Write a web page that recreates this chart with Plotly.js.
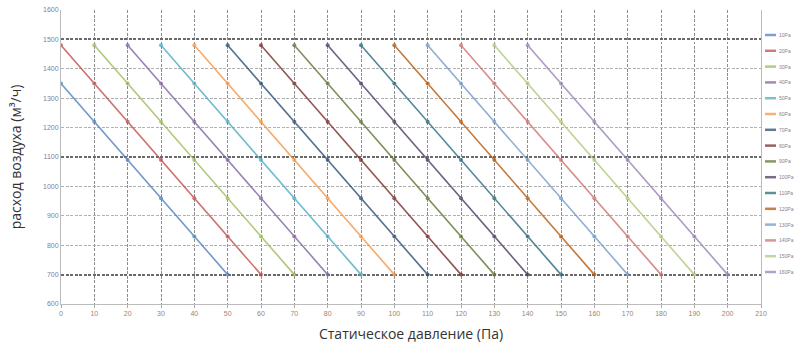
<!DOCTYPE html>
<html>
<head>
<meta charset="utf-8">
<script src="https://cdn.plot.ly/plotly-3.0.1.min.js"></script>
<style>
html,body{margin:0;padding:0;background:#fff;}
#chart{width:795px;height:354px;}
</style>
</head>
<body>
<div id="chart"></div>
<script>
// ---- data ----
const seriesNames = ["10Pa","20Pa","30Pa","40Pa","50Pa","60Pa","70Pa","80Pa","90Pa","100Pa","110Pa","120Pa","130Pa","140Pa","150Pa","160Pa"];
const seriesColors = ["#4F81BD","#C0504D","#9BBB59","#8064A2","#4BACC6","#F79646","#2C4D75","#772C2A","#5F7530","#4D3B62","#276A7C","#B65708","#729ACA","#CD7371","#AFC97A","#9983B5"];

const pressure01 = [0,10,20,30,40,50];
const flow01     = [1350,1220,1090,960,830,700];
const pressure02 = [0,10,20,30,40,50,60];
const flow02     = [1480,1350,1220,1090,960,830,700];
const pressure03 = [10,20,30,40,50,60,70];
const flow03     = [1480,1350,1220,1090,960,830,700];
const pressure04 = [20,30,40,50,60,70,80];
const flow04     = [1480,1350,1220,1090,960,830,700];
const pressure05 = [30,40,50,60,70,80,90];
const flow05     = [1480,1350,1220,1090,960,830,700];
const pressure06 = [40,50,60,70,80,90,100];
const flow06     = [1480,1350,1220,1090,960,830,700];
const pressure07 = [50,60,70,80,90,100,110];
const flow07     = [1480,1350,1220,1090,960,830,700];
const pressure08 = [60,70,80,90,100,110,120];
const flow08     = [1480,1350,1220,1090,960,830,700];
const pressure09 = [70,80,90,100,110,120,130];
const flow09     = [1480,1350,1220,1090,960,830,700];
const pressure10 = [80,90,100,110,120,130,140];
const flow10     = [1480,1350,1220,1090,960,830,700];
const pressure11 = [90,100,110,120,130,140,150];
const flow11     = [1480,1350,1220,1090,960,830,700];
const pressure12 = [100,110,120,130,140,150,160];
const flow12     = [1480,1350,1220,1090,960,830,700];
const pressure13 = [110,120,130,140,150,160,170];
const flow13     = [1480,1350,1220,1090,960,830,700];
const pressure14 = [120,130,140,150,160,170,180];
const flow14     = [1480,1350,1220,1090,960,830,700];
const pressure15 = [130,140,150,160,170,180,190];
const flow15     = [1480,1350,1220,1090,960,830,700];
const pressure16 = [140,150,160,170,180,190,200];
const flow16     = [1480,1350,1220,1090,960,830,700];

const xTickVals = [0,10,20,30,40,50,60,70,80,90,100,110,120,130,140,150,160,170,180,190,200,210];
const yTickVals = [600,700,800,900,1000,1100,1200,1300,1400,1500,1600];
const xTitle = "Статическое давление (Па)";
const yTitle = "расход воздуха (м³/ч)";

const pressures = [pressure01,pressure02,pressure03,pressure04,pressure05,pressure06,pressure07,pressure08,
                   pressure09,pressure10,pressure11,pressure12,pressure13,pressure14,pressure15,pressure16];
const flows = [flow01,flow02,flow03,flow04,flow05,flow06,flow07,flow08,
               flow09,flow10,flow11,flow12,flow13,flow14,flow15,flow16];

// ---- traces ----
const traces = pressures.map((px, i) => ({
  type: "scatter",
  mode: "lines+markers",
  name: seriesNames[i],
  x: px,
  y: flows[i],
  line: {color: seriesColors[i], width: 1.6},
  marker: {color: seriesColors[i], size: 4},
  opacity: 0.8,
  showlegend: false,
  xaxis: "x",
  yaxis: "y"
}));

// ---- compact legend (drawn at the right edge) ----
const plotL = 61, plotR = 761, plotT = 10, plotB = 304;
const W = plotR - plotL, H = plotB - plotT;
const shapes = [];
const annotations = [];
seriesNames.forEach((nm, i) => {
  const yp = 35 + i * 15.8;
  const py = 1 - (yp - plotT) / H;
  shapes.push({type: "line", xref: "paper", yref: "paper",
    x0: (765 - plotL) / W, x1: (776 - plotL) / W, y0: py, y1: py,
    line: {color: seriesColors[i], width: 2.5}, opacity: 0.75});
  annotations.push({xref: "paper", yref: "paper", x: (777 - plotL) / W, y: py,
    xanchor: "left", yanchor: "middle", showarrow: false, text: nm,
    font: {family: "Liberation Sans, Arial", size: 5, color: "#8a7f8f"}});
});

const layout = {
  width: 795, height: 354,
  margin: {l: plotL, r: 795 - plotR, t: plotT, b: 354 - plotB, pad: 0},
  paper_bgcolor: "#fff", plot_bgcolor: "#fff",
  showlegend: false,
  xaxis: {
    range: [0, 210], tickvals: xTickVals, ticktext: xTickVals.map(String),
    showgrid: true, gridcolor: "#8c8c8c", griddash: "3px,1.5px", gridwidth: 1,
    zeroline: false, showline: true, linecolor: "#bbb", linewidth: 1,
    ticks: "outside", ticklen: 3, tickcolor: "#aaa",
    tickfont: {family: "Liberation Sans, Arial", size: 7, color: "#9a8570"},
    title: {text: xTitle, font: {family: "Open Sans", size: 14, color: "#333"}, standoff: 12}
  },
  yaxis: {
    range: [600, 1600], tickvals: yTickVals, ticktext: yTickVals.map(String),
    showgrid: true, gridcolor: "#b0b0b0", griddash: "3px,1.5px", gridwidth: 1,
    zeroline: false, showline: true, linecolor: "#bbb", linewidth: 1, mirror: true,
    ticks: "",
    tickfont: {family: "Liberation Sans, Arial", size: 7, color: "#7d7fa0"},
    title: {text: yTitle, font: {family: "Open Sans", size: 14, color: "#333"}, standoff: 18}
  },
  yaxis2: {
    overlaying: "y", matches: "y", side: "left",
    range: [600, 1600], tick0: 700, dtick: 400, showticklabels: false, ticks: "",
    showgrid: true, gridcolor: "#6a6a6a", griddash: "3px,1.5px", gridwidth: 2,
    zeroline: false, showline: false
  },
  shapes: shapes,
  annotations: annotations
};

// invisible trace so yaxis2 grid is drawn
traces.unshift({type: "scatter", x: [], y: [], yaxis: "y2", xaxis: "x", showlegend: false, hoverinfo: "skip"});

Plotly.newPlot("chart", traces, layout, {staticPlot: true, displayModeBar: false});
</script>
</body>
</html>
